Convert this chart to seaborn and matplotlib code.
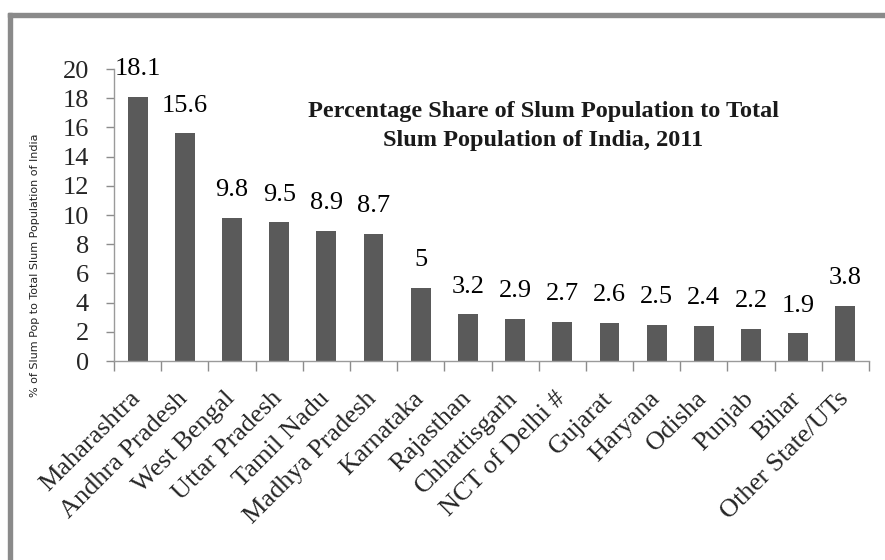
import matplotlib
matplotlib.use("Agg")
import matplotlib.pyplot as plt
import seaborn as sns
import pandas as pd
import numpy as np
from matplotlib.patches import Rectangle
from matplotlib.transforms import ScaledTranslation

states = ["Maharashtra", "Andhra Pradesh", "West Bengal", "Uttar Pradesh",
          "Tamil Nadu", "Madhya Pradesh", "Karnataka", "Rajasthan",
          "Chhattisgarh", "NCT of Delhi #", "Gujarat", "Haryana", "Odisha",
          "Punjab", "Bihar", "Other State/UTs"]
share = [18.1, 15.6, 9.8, 9.5, 8.9, 8.7, 5, 3.2, 2.9, 2.7, 2.6, 2.5, 2.4,
         2.2, 1.9, 3.8]
share_labels = ["18.1", "15.6", "9.8", "9.5", "8.9", "8.7", "5", "3.2", "2.9",
                "2.7", "2.6", "2.5", "2.4", "2.2", "1.9", "3.8"]
y_ticks = list(range(0, 21, 2))

df = pd.DataFrame({"state": states, "share": share})

sns.set_theme(style="white")
plt.rcParams["font.family"] = ["Liberation Serif", "DejaVu Serif"]

fig = plt.figure(figsize=(8.85, 5.6), dpi=100)
fig.patch.set_facecolor("white")
ax = fig.add_axes([114 / 885, 1 - 361 / 560, (869 - 114) / 885, (361 - 69) / 560])

sns.barplot(data=df, x="state", y="share", color="#5a5a5a", width=0.42,
            saturation=1, ax=ax, edgecolor="none")

ax.set_ylim(0, 20)
ax.set_xlim(-0.5, len(states) - 0.5)
ax.set_yticks(y_ticks)
ax.set_yticklabels([str(t) for t in y_ticks], fontsize=19)
ax.tick_params(axis="y", direction="out", length=6, width=1, color="#8c8c8c",
               pad=12, left=True)

# category labels at bar centres, tick marks between categories
ax.set_xticks(np.arange(len(states)))
ax.set_xticklabels(states, rotation=45, ha="right", rotation_mode="anchor",
                   fontsize=19)
ax.tick_params(axis="x", which="major", length=0, pad=12)
shift = ScaledTranslation(-6 / 72, -7 / 72, fig.dpi_scale_trans)
for lab in ax.get_xticklabels():
    lab.set_transform(lab.get_transform() + shift)
ax.set_xticks(np.arange(-0.5, len(states)), minor=True)
ax.tick_params(axis="x", which="minor", direction="out", length=7, width=1,
               color="#8c8c8c", bottom=True)

for side in ["top", "right"]:
    ax.spines[side].set_visible(False)
for side in ["left", "bottom"]:
    ax.spines[side].set_color("#9a9a9a")
    ax.spines[side].set_linewidth(1)

ax.set_xlabel("")
ax.set_ylabel("")

for i, (v, lab) in enumerate(zip(share, share_labels)):
    ax.annotate(lab, xy=(i, v), xytext=(0, 12), textcoords="offset points",
                ha="center", va="bottom", fontsize=19, color="black")

fig.text(35 / 885, 1 - 265 / 560,
         "% of Slum Pop to Total Slum Population of India",
         rotation=90, ha="center", va="center", fontsize=8,
         family=["Liberation Sans Narrow", "DejaVu Sans"], color="#222222")

fig.text(543 / 885, 1 - 126 / 560,
         "Percentage Share of Slum Population to Total\nSlum Population of India, 2011",
         ha="center", va="center", fontsize=17.5, fontweight="bold",
         linespacing=1.5, color="#1a1a1a")

# outer frame (top and left edges)
fig.patches.append(Rectangle((8 / 885, 1 - 17 / 560), 1, 4 / 560,
                             transform=fig.transFigure, color="#8a8a8a",
                             zorder=0))
fig.patches.append(Rectangle((8 / 885, 0), 4 / 885, 1 - 13 / 560,
                             transform=fig.transFigure, color="#8a8a8a",
                             zorder=0))

fig.savefig("out.png", dpi=100, facecolor="white")
